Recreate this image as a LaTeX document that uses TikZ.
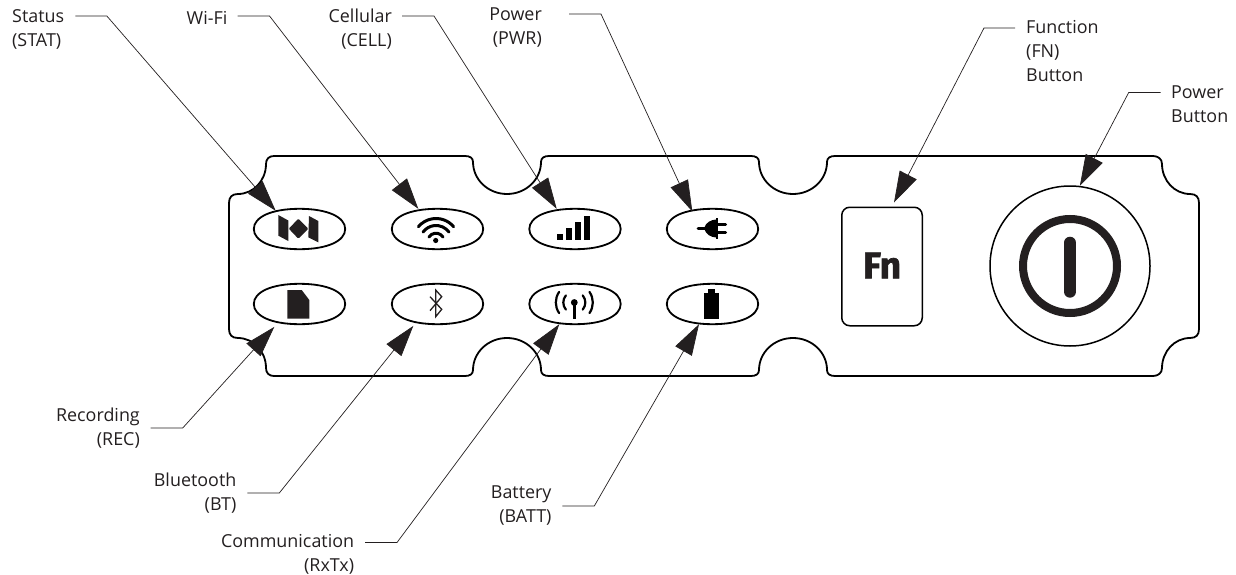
\documentclass[tikz,border=0pt]{standalone}
\usepackage{fontspec}
\setmainfont{Open Sans}
\newfontfamily\fnfont{Fira Sans}[BoldFeatures={FakeBold=1.8}]
\usepackage{xcolor}
\usetikzlibrary{arrows.meta}
\definecolor{ink}{HTML}{231F20}
\tikzset{
  panel/.style={line width=1.8pt, draw=black},
  pill/.style={minimum width=91pt, minimum height=40pt, inner sep=0pt},
  lbl/.style={inner sep=0pt, text=ink, font=\fontsize{17.9}{24}\selectfont},
  callout/.style={line width=0.7pt, draw=ink, -{Triangle[length=31pt,width=19pt,fill=ink]}},
  fnkey/.style={draw, line width=1.5pt, rounded corners=8pt, minimum width=80.5pt, minimum height=118.5pt, inner sep=0pt, text=ink, font=\fnfont\bfseries\fontsize{37}{37}\selectfont},
  pwrkey/.style={draw, circle, line width=1.5pt, minimum size=160pt, inner sep=0pt}
}
\begin{document}
\begin{tikzpicture}[x=1pt, y=-1pt]
\useasboundingbox (0,0) rectangle (1236,575);
% housing outline
\draw[panel] (274,156) -- (465,156) .. controls (470,156) and (473,158) .. (473,162)
  arc[start angle=180, delta angle=180, x radius=34pt, y radius=32pt]
  .. controls (541,158) and (544,156) .. (549,156) -- (751,156)
  .. controls (756,156) and (759,158) .. (759,162)
  arc[start angle=180, delta angle=180, x radius=34pt, y radius=32pt]
  .. controls (827,158) and (830,156) .. (835,156) -- (1153,156)
  .. controls (1158,156) and (1162,159) .. (1162,164)
  arc[start angle=180, delta angle=90, x radius=28pt, y radius=30pt]
  .. controls (1196,194) and (1199,197) .. (1199,203) -- (1199,329)
  .. controls (1199,335) and (1196,338) .. (1190,338)
  arc[start angle=90, delta angle=90, x radius=28pt, y radius=30pt]
  .. controls (1162,373) and (1158,376) .. (1153,376) -- (835,376)
  .. controls (830,376) and (827,374) .. (827,370)
  arc[start angle=0, delta angle=180, x radius=34pt, y radius=32pt]
  .. controls (759,374) and (756,376) .. (751,376) -- (549,376)
  .. controls (544,376) and (541,374) .. (541,370)
  arc[start angle=0, delta angle=180, x radius=34pt, y radius=32pt]
  .. controls (473,374) and (470,376) .. (465,376) -- (274,376)
  .. controls (269,376) and (266,373) .. (266,368)
  arc[start angle=0, delta angle=90, x radius=28pt, y radius=30pt]
  .. controls (232,338) and (229,335) .. (229,329) -- (229,203)
  .. controls (229,197) and (232,194) .. (238,194)
  arc[start angle=270, delta angle=90, x radius=28pt, y radius=30pt]
  .. controls (266,159) and (269,156) .. (274,156) -- cycle;
% indicators
\node[pill] (statled) at (299.5,229) {};
\node[pill] (wifiled) at (437.5,229) {};
\node[pill] (cellled) at (575,229) {};
\node[pill] (pwrled) at (712.5,229) {};
\node[pill] (recled) at (299.5,304) {};
\node[pill] (btled) at (437.5,304) {};
\node[pill] (commled) at (575,304) {};
\node[pill] (battled) at (712.5,304) {};
\foreach \n in {statled,wifiled,cellled,pwrled,recled,btled,commled,battled}
  \draw[panel] (\n.west) .. controls +(0,-12) and +(-28,0) .. (\n.north)
    .. controls +(28,0) and +(0,-12) .. (\n.east)
    .. controls +(0,12) and +(28,0) .. (\n.south)
    .. controls +(-28,0) and +(0,12) .. (\n.west) -- cycle;
% status
\fill[ink] (278.3,215) -- (288.3,220.5) -- (288.3,241) -- (278.3,235.7) -- cycle;
\fill[ink] (309,216) -- (318.3,221) -- (318.3,242.3) -- (308.3,237.3) -- cycle;
\fill[ink, rounded corners=1pt] (298.3,218.7) -- (308.3,228.7) -- (298.3,238.7) -- (288.8,228.7) -- cycle;
% wifi
\coordinate (wifidot) at (436,241.5);
\foreach \r/\a in {8.3/32,16/36,23/40}
  \draw[line width=3pt, line cap=round] ([shift={(\a:\r pt)}]wifidot) arc[start angle=\a, end angle=180-\a, radius=\r pt];
\fill (435.7,240.5) circle[radius=2.6pt];
% cellular
\fill (557.3,234) rectangle (562.7,240);
\fill (566,228.3) rectangle (571.7,240);
\fill (574.7,222) rectangle (581,240);
\fill (584,216) rectangle (590,240);
% plug
\draw[line width=2.6pt, line cap=round] (698,228.3) -- (705,228.3);
\fill (704,228.3) .. controls (706,222) and (711,220) .. (716,219.5) -- (716,237.5) .. controls (711,237) and (706,235) .. (704,228.3) -- cycle;
\draw[line width=1.8pt] (717.3,218) -- (717.3,238.5);
\draw[line width=3pt, line cap=round] (718,224) -- (725.5,224);
\draw[line width=3pt, line cap=round] (718,232.7) -- (725.5,232.7);
% sd card
\fill[ink] (287.3,290) -- (301.7,290) -- (309.3,300) -- (309.3,318.7) -- (287.3,318.7) -- cycle;
% bluetooth
\draw[line width=1.3pt, draw=ink] (430,296.7) -- (441.7,309.3) -- (435.7,316.7) -- (435.7,290) -- (441.7,296.7) -- (430,310.7);
% antenna
\coordinate (commdot) at (574.3,302.5);
\fill (commdot) circle[radius=3.4pt];
\draw[line width=2.6pt] (commdot) -- (574.3,319.3);
\foreach \r/\a in {11/40,18.5/35} {
  \draw[line width=2.2pt, line cap=round] ([shift={(-\a:\r pt)}]commdot) arc[start angle=-\a, end angle=\a, radius=\r pt];
  \draw[line width=2.2pt, line cap=round] ([shift={(180-\a:\r pt)}]commdot) arc[start angle=180-\a, end angle=180+\a, radius=\r pt];
}
% battery
\fill (704.3,292.7) rectangle (719,319.3);
\fill (708.3,289) rectangle (715,293);
% buttons
\node[fnkey] (fnbtn) at (882,266.5) {\raisebox{2pt}{Fn}};
\node[pwrkey] (pwrbtn) at (1070,266) {};
\draw[line width=8pt, ink] (pwrbtn.center) circle[radius=47pt];
\draw[line width=12pt, ink, line cap=round] (1070,242.7) -- (1070,291.7);
% labels
\node[lbl, align=left, anchor=west] (statlbl) at (12,29.5) {Status\\(STAT)};
\node[lbl, anchor=west] (wifilbl) at (186.5,17.5) {Wi-Fi};
\node[lbl, align=right, anchor=east] (celllbl) at (392,29.5) {Cellular\\(CELL)};
\node[lbl, align=right, anchor=east] (pwrlbl) at (542,28) {Power\\(PWR)};
\node[lbl, align=left, anchor=west] (fnlbl) at (1026,51) {Function\\(FN)\\Button};
\node[lbl, align=left, anchor=west] (btnlbl) at (1171,104) {Power\\Button};
\node[lbl, align=right, anchor=east] (reclbl) at (140,428) {Recording\\(REC)};
\node[lbl, align=right, anchor=east] (btlbl) at (236.5,493) {Bluetooth\\(BT)};
\node[lbl, align=right, anchor=east] (commlbl) at (354.3,554) {Communication\\(RxTx)};
\node[lbl, align=right, anchor=east] (battlbl) at (551.7,506) {Battery\\(BATT)};
% callouts
\draw[callout] ([xshift=11pt,yshift=13.5pt]statlbl.east) -- ++(31.5,0) -- ([xshift=-23.8pt,yshift=-2pt]statled.north);
\draw[callout] ([xshift=10pt,yshift=1.5pt]wifilbl.east) -- ++(32,0) -- ([xshift=-19.2pt]wifiled.north);
\draw[callout] ([xshift=10pt,yshift=13.5pt]celllbl.east) -- ++(32,0) -- ([xshift=-18.3pt]cellled.north);
\draw[callout] ([xshift=27pt,yshift=14pt]pwrlbl.east) -- ++(32,0) -- ([xshift=-20.2pt,yshift=-2.7pt]pwrled.north);
\draw[callout] ([xshift=-11pt,yshift=23pt]fnlbl.west) -- ++(-31,0) -- ([xshift=12pt,yshift=4pt]fnbtn.north);
\draw[callout] ([xshift=-10.3pt,yshift=11.5pt]btnlbl.west) -- ++(-32,0) -- (pwrbtn.83);
\draw[callout] ([xshift=10.7pt]reclbl.east) -- ++(32,0) -- ([xshift=-25.2pt,yshift=-2.7pt]recled.south);
\draw[callout] ([xshift=10.8pt]btlbl.east) -- ++(32,0) -- ([xshift=-24.2pt,yshift=-1.7pt]btled.south);
\draw[callout] ([xshift=10.7pt,yshift=11.5pt]commlbl.east) -- ++(32,0) -- ([xshift=-15.7pt]commled.south);
\draw[callout] ([xshift=10.6pt]battlbl.east) -- ++(32,0) -- ([xshift=-13.5pt]battled.south);
\end{tikzpicture}
\end{document}
